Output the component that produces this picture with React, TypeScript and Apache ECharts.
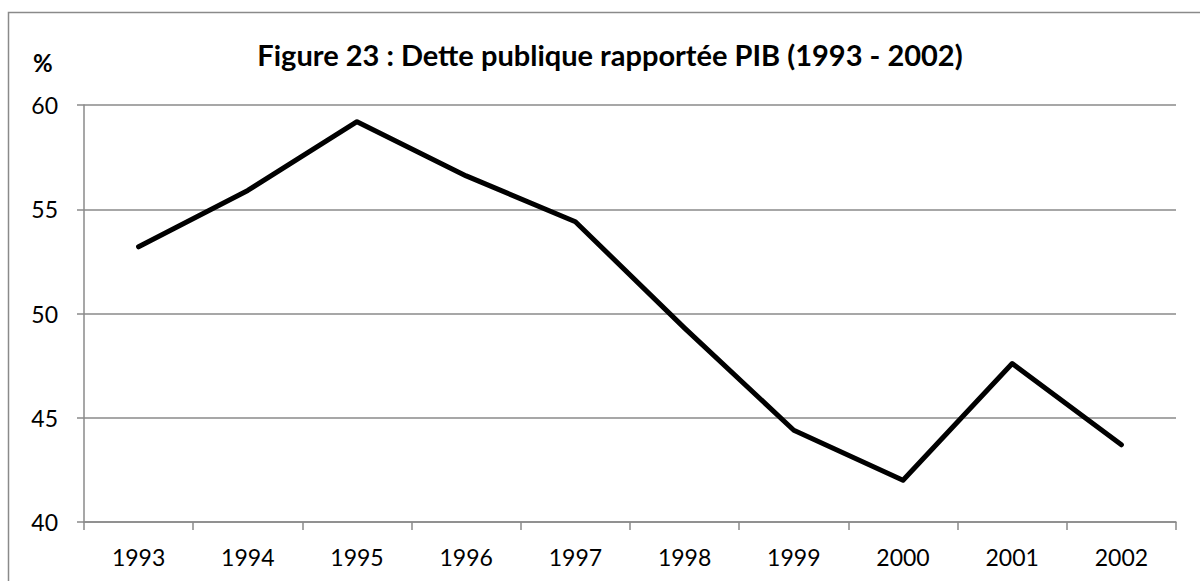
import React, { useEffect, useRef } from "react";
import * as echarts from "echarts";

const years = ["1993", "1994", "1995", "1996", "1997", "1998", "1999", "2000", "2001", "2002"];
const debtRatio = [53.2, 55.9, 59.2, 56.6, 54.4, 49.3, 44.4, 42.0, 47.6, 43.7];
const titleText = "Figure 23 : Dette publique rapportée PIB (1993 - 2002)";
const unitLabel = "%";

const FONT = "Lato, 'Open Sans', sans-serif";
const GRAY = "#8a8a8a";

export default function App() {
  const ref = useRef<HTMLDivElement>(null);
  useEffect(() => {
    document.body.style.margin = "0";
    const chart = echarts.init(ref.current!, undefined, { renderer: "svg" });
    chart.setOption({
      animation: false,
      backgroundColor: "#ffffff",
      textStyle: { fontFamily: FONT },
      grid: { left: 84, right: 24, top: 105, bottom: 59, containLabel: false },
      xAxis: {
        type: "category",
        data: years,
        boundaryGap: true,
        axisLine: { show: true, lineStyle: { color: GRAY, width: 1.5 } },
        axisTick: { show: true, length: 8, lineStyle: { color: GRAY, width: 1.5 } },
        axisLabel: { color: "#000", fontSize: 23, fontFamily: FONT, margin: 23 },
        splitLine: { show: false },
      },
      yAxis: {
        type: "value",
        min: 40,
        max: 60,
        interval: 5,
        axisLine: { show: true, lineStyle: { color: GRAY, width: 1.5 } },
        axisTick: { show: true, length: 7, lineStyle: { color: GRAY, width: 1.5 } },
        axisLabel: { color: "#000", fontSize: 23, fontFamily: FONT, margin: 26 },
        splitLine: { show: true, lineStyle: { color: GRAY, width: 1.5 } },
      },
      series: [
        {
          type: "line",
          data: debtRatio,
          symbol: "none",
          lineStyle: { color: "#000", width: 5, cap: "round", join: "round" },
        },
      ],
      graphic: [
        {
          type: "rect",
          shape: { x: 8.5, y: 12.5, width: 1220, height: 600 },
          style: { fill: "none", stroke: GRAY, lineWidth: 1.5 },
          silent: true,
        },
        {
          type: "text",
          x: 610,
          y: 54,
          style: {
            text: titleText,
            fontFamily: FONT,
            fontWeight: "bold",
            fontSize: 29,
            fill: "#000",
            align: "center",
            verticalAlign: "middle",
          },
        },
        {
          type: "text",
          x: 33,
          y: 62,
          style: {
            text: unitLabel,
            fontFamily: FONT,
            fontWeight: "bold",
            fontSize: 24,
            fill: "#000",
            align: "left",
            verticalAlign: "middle",
          },
        },
      ],
    });
    return () => chart.dispose();
  }, []);
  return (
    <div
      ref={ref}
      style={{ position: "absolute", left: 0, top: 0, width: 1200, height: 581 }}
    />
  );
}
